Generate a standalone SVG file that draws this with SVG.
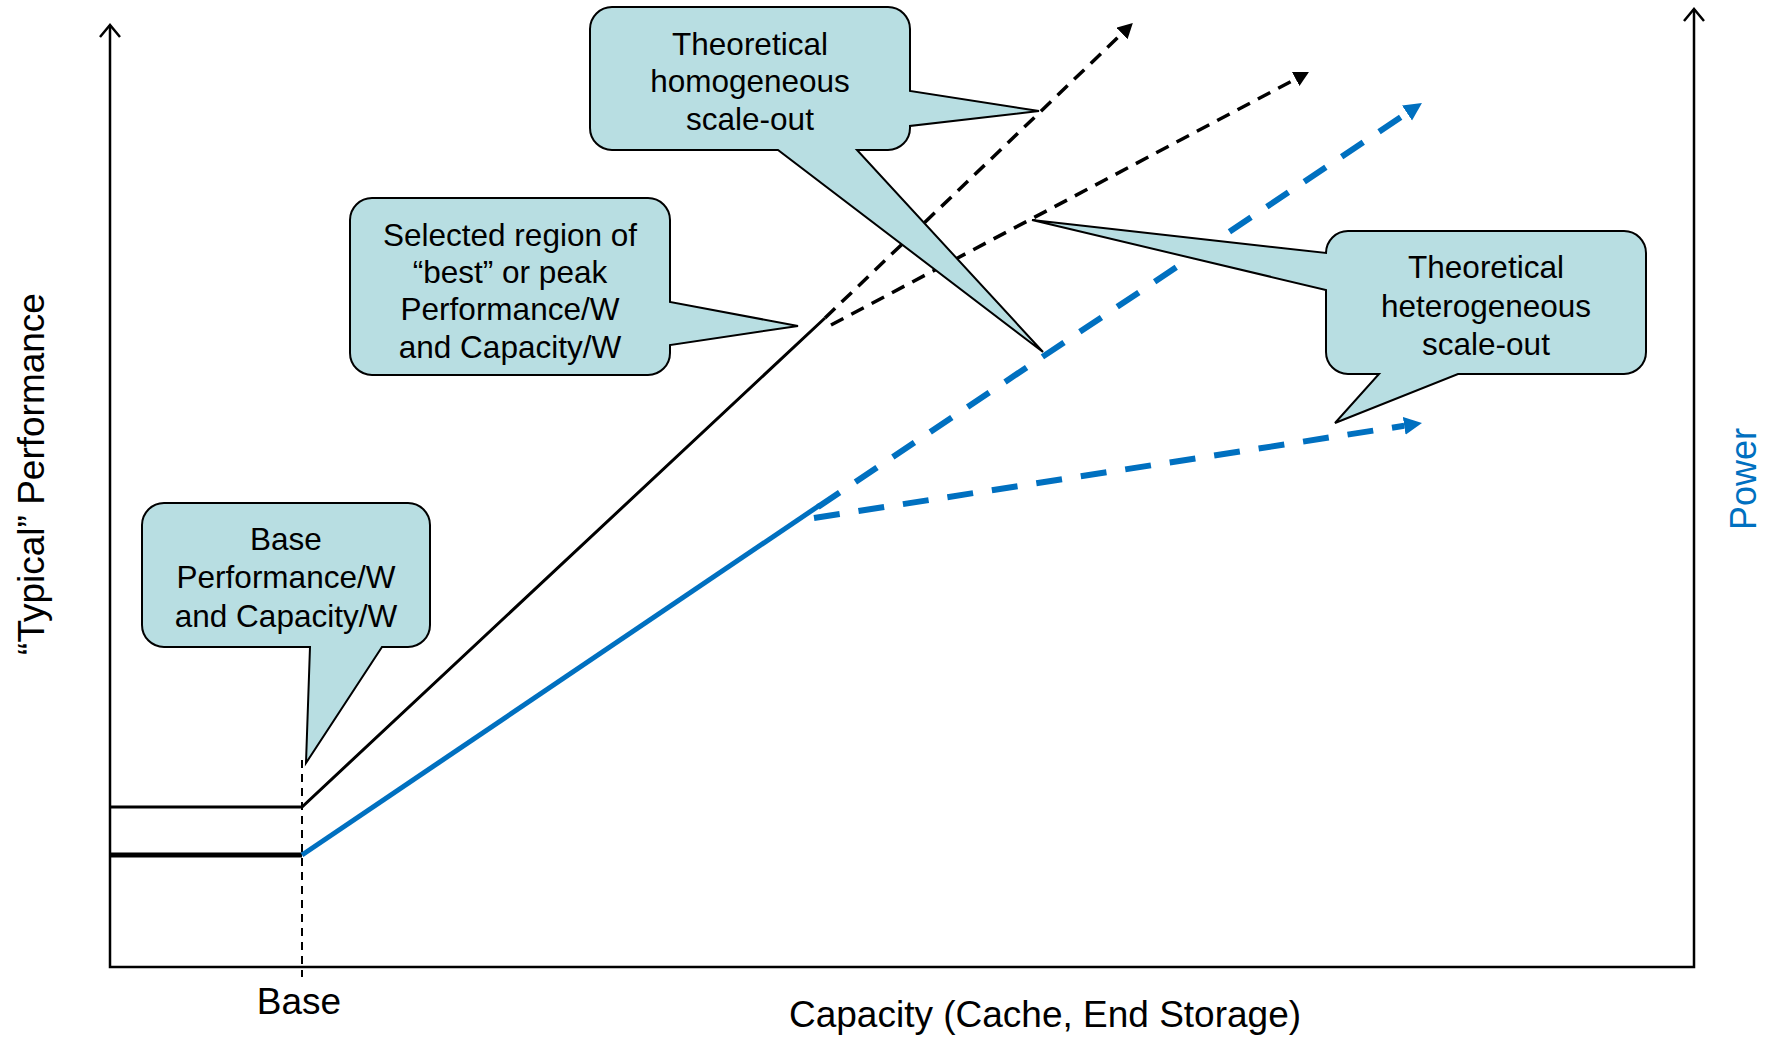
<svg xmlns="http://www.w3.org/2000/svg" width="1768" height="1044" viewBox="0 0 1768 1044">
  <style>
    .axis { stroke: #000; stroke-width: 2.5; fill: none; }
    .callout { fill: #B8DEE2; stroke: #000; stroke-width: 2; stroke-linejoin: miter; }
    .ctext { font-family: "Liberation Sans", Arial, sans-serif; font-size: 31.5px; fill: #000; text-anchor: middle; }
    .label { font-family: "Liberation Sans", Arial, sans-serif; font-size: 37px; fill: #000; text-anchor: middle; }
    .blk-dash { stroke: #000; stroke-width: 3.5; stroke-dasharray: 14 9; fill: none; }
    .blu-dash { stroke: #0070C0; stroke-width: 6; stroke-dasharray: 26 19; fill: none; }
  </style>
  <defs>
    <marker id="ahBlack" markerUnits="userSpaceOnUse" markerWidth="18" markerHeight="18" refX="0" refY="8" orient="auto">
      <path d="M0,0 L15,8 L0,16 Z" fill="#000"/>
    </marker>
    <marker id="ahBlue" markerUnits="userSpaceOnUse" markerWidth="20" markerHeight="20" refX="0" refY="9" orient="auto">
      <path d="M0,0 L18,9 L0,18 Z" fill="#0070C0"/>
    </marker>
  </defs>

  <!-- axes -->
  <g id="axes">
    <polyline class="axis" points="110,25 110,967 1694,967 1694,9"/>
    <polyline class="axis" points="100,37 110,25 120,37"/>
    <polyline class="axis" points="1684,21 1694,9 1704,21"/>
    <line x1="302" y1="760" x2="302" y2="977" stroke="#000" stroke-width="2" stroke-dasharray="8 6"/>
    <text class="label" x="299" y="1014">Base</text>
    <text class="label" x="1045" y="1027">Capacity (Cache, End Storage)</text>
    <text class="label" transform="translate(44,474) rotate(-90)">“Typical” Performance</text>
    <text class="label" style="fill:#0070C0;font-size:36px" transform="translate(1756,479) rotate(-90)">Power</text>
  </g>

  <!-- curves -->
  <g id="connectors">
    <polyline points="110,807 302,807 825,318" fill="none" stroke="#000" stroke-width="3"/>
    <line x1="110" y1="855" x2="302" y2="855" stroke="#000" stroke-width="5"/>
    <line x1="302" y1="855" x2="820" y2="505" stroke="#0070C0" stroke-width="5"/>
    <line class="blk-dash" x1="825" y1="318" x2="1122" y2="33.5" marker-end="url(#ahBlack)"/>
    <line class="blk-dash" x1="831" y1="325" x2="1295.7" y2="79" marker-end="url(#ahBlack)"/>
    <line class="blu-dash" x1="818" y1="507" x2="1407" y2="113" marker-end="url(#ahBlue)"/>
    <line class="blu-dash" x1="814" y1="518" x2="1404.2" y2="425.8" marker-end="url(#ahBlue)"/>
  </g>

  <g id="callout-homogeneous">
    <path class="callout" d="M612,7 H888 A22,22 0 0 1 910,29 V91 L1039,111 L910,126 V128 A22,22 0 0 1 888,150 H857 L1043,352 L778,150 H612 A22,22 0 0 1 590,128 V29 A22,22 0 0 1 612,7 Z"/>
    <text class="ctext"><tspan x="750" y="55">Theoretical</tspan><tspan x="750" y="92">homogeneous</tspan><tspan x="750" y="130">scale-out</tspan></text>
  </g>

  <g id="callout-selected">
    <path class="callout" d="M372,198 H648 A22,22 0 0 1 670,220 V302 L798,326 L670,345 V353 A22,22 0 0 1 648,375 H372 A22,22 0 0 1 350,353 V220 A22,22 0 0 1 372,198 Z"/>
    <text class="ctext"><tspan x="510" y="246">Selected region of</tspan><tspan x="510" y="283">“best” or peak</tspan><tspan x="510" y="320">Performance/W</tspan><tspan x="510" y="358">and Capacity/W</tspan></text>
  </g>

  <g id="callout-base">
    <path class="callout" d="M164,503 H408 A22,22 0 0 1 430,525 V625 A22,22 0 0 1 408,647 H382 L306,763 L310,647 H164 A22,22 0 0 1 142,625 V525 A22,22 0 0 1 164,503 Z"/>
    <text class="ctext"><tspan x="286" y="550">Base</tspan><tspan x="286" y="588">Performance/W</tspan><tspan x="286" y="627">and Capacity/W</tspan></text>
  </g>

  <g id="callout-heterogeneous">
    <path class="callout" d="M1348,231 H1624 A22,22 0 0 1 1646,253 V352 A22,22 0 0 1 1624,374 H1458 L1335,423 L1379,374 H1348 A22,22 0 0 1 1326,352 V290 L1032,220 L1326,253 A22,22 0 0 1 1348,231 Z"/>
    <text class="ctext"><tspan x="1486" y="278">Theoretical</tspan><tspan x="1486" y="317">heterogeneous</tspan><tspan x="1486" y="355">scale-out</tspan></text>
  </g>
</svg>
